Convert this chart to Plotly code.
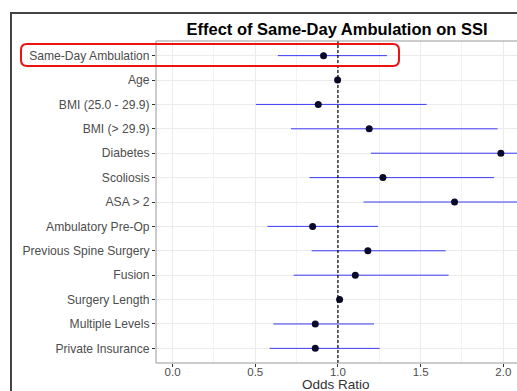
import plotly.graph_objects as go

categories = ["Same-Day Ambulation", "Age", "BMI (25.0 - 29.9)", "BMI (> 29.9)",
              "Diabetes", "Scoliosis", "ASA > 2", "Ambulatory Pre-Op",
              "Previous Spine Surgery", "Fusion", "Surgery Length",
              "Multiple Levels", "Private Insurance"]
odds_ratio = [0.913, 0.998, 0.881, 1.189, 1.985, 1.272, 1.705, 0.847, 1.181, 1.105, 1.010, 0.863, 0.863]
ci_low = [0.637, 0.990, 0.504, 0.716, 1.199, 0.828, 1.155, 0.574, 0.841, 0.732, 1.002, 0.609, 0.587]
ci_high = [1.296, 1.006, 1.536, 1.965, 3.300, 1.943, 2.520, 1.242, 1.651, 1.669, 1.018, 1.218, 1.252]
x_ticks = [0.0, 0.5, 1.0, 1.5, 2.0]
x_tick_labels = ["0.0", "0.5", "1.0", "1.5", "2.0"]

W, H = 517, 391
L, T, B, R = 156, 41, 28, 0
pw, ph = W - L - R, H - T - B

def px2x(px):
    return (px - L) / pw

def px2y(py):
    return (H - B - py) / ph

rows = list(range(1, len(categories) + 1))

fig = go.Figure()
fig.add_trace(go.Scatter(
    x=odds_ratio, y=rows, mode="markers",
    marker=dict(color="#0a0a2a", size=7),
    error_x=dict(type="data", symmetric=False,
                 array=[h - o for h, o in zip(ci_high, odds_ratio)],
                 arrayminus=[o - l for o, l in zip(odds_ratio, ci_low)],
                 color="#3a3af5", thickness=1, width=0),
    showlegend=False, hoverinfo="skip"))

shapes = []
# reference line at OR = 1
shapes.append(dict(type="line", xref="x", yref="paper", x0=1, x1=1, y0=0, y1=1,
                   line=dict(color="black", width=1.2, dash="3px,2px"), layer="above"))
# panel border
shapes.append(dict(type="rect", xref="paper", yref="paper", x0=0, x1=1.02, y0=0, y1=1,
                   line=dict(color="#999999", width=1)))
# outer frame
shapes.append(dict(type="rect", xref="paper", yref="paper",
                   x0=px2x(11), x1=px2x(W + 20), y0=px2y(H + 20), y1=px2y(13),
                   line=dict(color="#444444", width=2)))
# red rounded highlight box
x0p, x1p, y0p, y1p, r = 21, 399, 44, 66, 6
def P(a, b):
    return f"{px2x(a):.5f},{px2y(b):.5f}"
path = (f"M {P(x0p + r, y0p)} L {P(x1p - r, y0p)} Q {P(x1p, y0p)} {P(x1p, y0p + r)} "
        f"L {P(x1p, y1p - r)} Q {P(x1p, y1p)} {P(x1p - r, y1p)} "
        f"L {P(x0p + r, y1p)} Q {P(x0p, y1p)} {P(x0p, y1p - r)} "
        f"L {P(x0p, y0p + r)} Q {P(x0p, y0p)} {P(x0p + r, y0p)} Z")
shapes.append(dict(type="path", xref="paper", yref="paper", path=path,
                   line=dict(color="#ee1111", width=2), layer="above"))

fig.update_layout(
    width=W, height=H,
    margin=dict(l=L, r=R, t=T, b=B),
    paper_bgcolor="white", plot_bgcolor="white",
    font=dict(family="Liberation Sans, Arial, sans-serif", color="#4d4d4d", size=12),
    title=dict(text="<b>Effect of Same-Day Ambulation on SSI</b>",
               x=px2x(337), xref="paper", xanchor="center",
               y=1 - 29 / H, yref="container", yanchor="middle",
               font=dict(size=16.5, color="black", family="Liberation Sans, Arial, sans-serif")),
    xaxis=dict(range=[-0.1, -0.1 + pw / 165.4], tickvals=x_ticks, ticktext=x_tick_labels,
               showgrid=True, gridcolor="#ebebeb", gridwidth=1,
               minor=dict(dtick=0.25, showgrid=True, gridcolor="#f3f3f3", gridwidth=1),
               ticks="outside", ticklen=3, tickcolor="#333333", tickwidth=1,
               ticklabelstandoff=-5,
               zeroline=False, showline=False, tickfont=dict(size=11.5, color="#4d4d4d")),
    yaxis=dict(range=[13.6, 0.4], tickvals=rows, ticktext=categories,
               showgrid=True, gridcolor="#ebebeb", gridwidth=1,
               ticks="outside", ticklen=3, tickcolor="#333333", tickwidth=1,
               zeroline=False, showline=False, tickfont=dict(size=12.1, color="#4d4d4d")),
    shapes=shapes,
    annotations=[dict(text="Odds Ratio", xref="paper", yref="paper",
                      x=px2x(336), y=px2y(384), xanchor="center", yanchor="middle",
                      showarrow=False, font=dict(size=13.5, color="#333333"))],
)

fig.write_html("out.html", config={"displayModeBar": False},
               post_script="document.body.style.margin='0';document.body.style.overflow='hidden';")
